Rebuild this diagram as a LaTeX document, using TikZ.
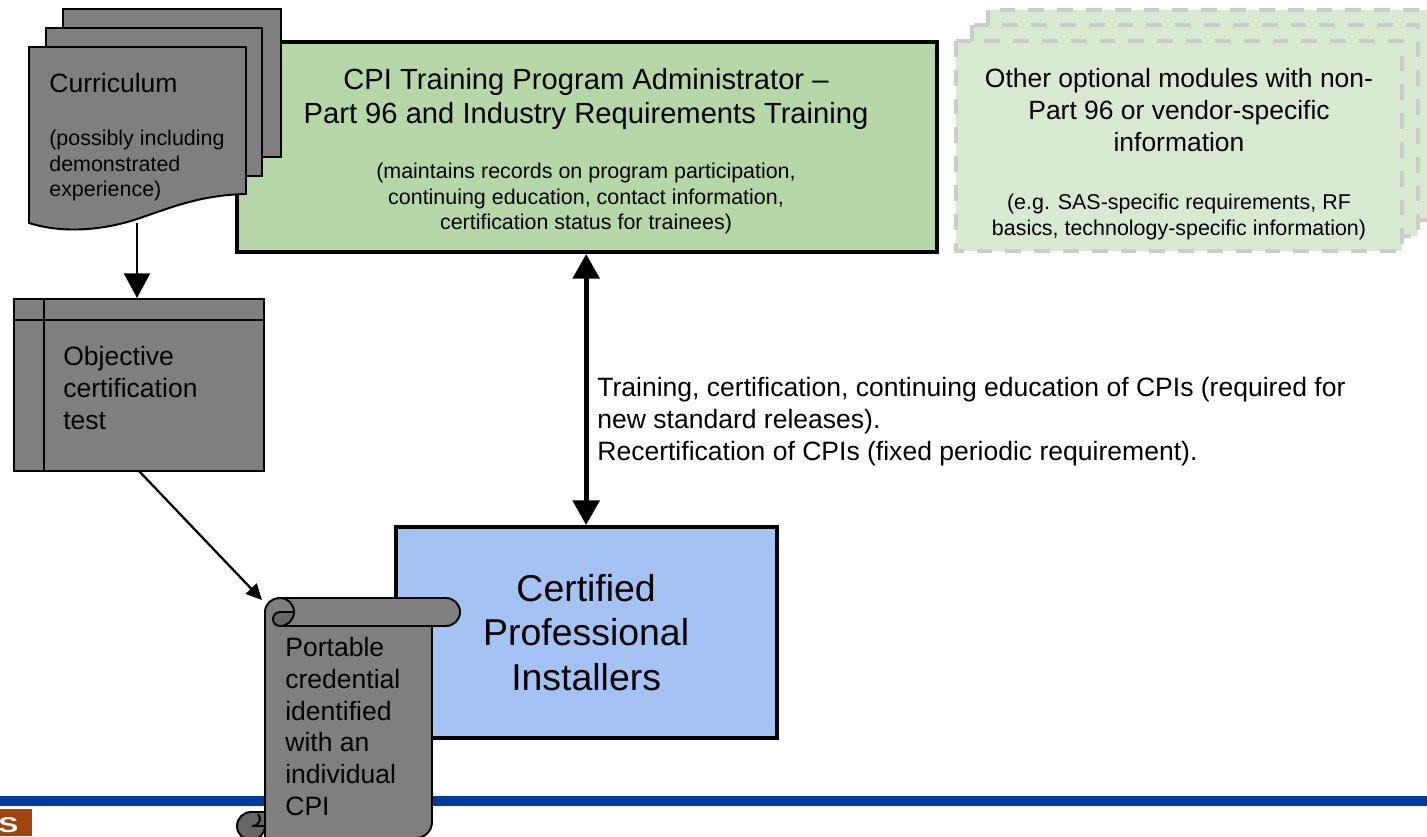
\documentclass[tikz,border=0pt]{standalone}
\usepackage{fontspec}
\setmainfont{Liberation Sans}
\usetikzlibrary{arrows.meta}
\definecolor{docgrey}{HTML}{7F7F7F}
\definecolor{rollgrey}{HTML}{666666}
\definecolor{admingreen}{HTML}{B6D7A8}
\definecolor{optgreen}{HTML}{D9EAD3}
\definecolor{optdash}{HTML}{CCCCCC}
\definecolor{installblue}{HTML}{A4C2F4}
\definecolor{barblue}{HTML}{003C9B}
\definecolor{logobrown}{HTML}{A0430C}
\newcommand{\fnote}{\fontsize{12.2}{14.4}\selectfont}
\newcommand{\fmid}{\fontsize{15.1}{18.1}\selectfont}
\newcommand{\ftitle}{\fontsize{16.6}{19.3}\selectfont}
\newcommand{\fopt}{\fontsize{15.05}{18}\selectfont}
\newcommand{\fhuge}{\fontsize{21.3}{25.2}\selectfont}
\tikzset{
    grey shape/.style={draw=black,line width=1.1pt,fill=docgrey},
    opt sheet/.style={draw=optdash,fill=optgreen,line width=2.2pt,dash pattern=on 9pt off 7.4pt},
    main box/.style={draw=black,line width=2.3pt,rectangle,inner sep=0pt},
    label/.style={inner sep=0pt,align=left,anchor=north west},
    thin link/.style={line width=1.4pt,-{Triangle[length=14pt,width=14.7pt]}},
    small link/.style={line width=1.3pt,-{Triangle[length=9pt,width=8.5pt]}},
    thick link/.style={line width=2.7pt,{Triangle[length=14pt,width=15pt]}-{Triangle[length=14pt,width=15pt]}}
}
\begin{document}
\begin{tikzpicture}[x=0.02cm,y=-0.02cm]
    \path [use as bounding box,clip] (0,0) rectangle (1427,836);

    \fill [barblue] (0,796) rectangle (1427,806);
    \fill [logobrown] (0,809) rectangle (32,836);
    \node [text=white,inner sep=0pt,xscale=1.4,font=\fnote\bfseries] (logo) at (8.5,825) {S};

    \node [main box,fill=admingreen,anchor=north west,minimum width=398.6pt,minimum height=119.5pt] (admin) at (235,40) {};
    \node [align=center,inner sep=0pt,font=\ftitle] (admintitle) at (586,99) {CPI Training Program Administrator --\\Part 96 and Industry Requirements Training};
    \node [align=center,inner sep=0pt,font=\fnote] (admintext) at (586,198.5) {(maintains records on program participation,\\continuing education, contact information,\\certification status for trainees)};

    \draw [grey shape] (63,9) rectangle (281,157);
    \draw [grey shape] (46,28) rectangle (262,176);
    \draw [grey shape] (29,47) -- (246,47) -- (246,194)
        .. controls (200,195) and (170,208) .. (140,218)
        .. controls (115,227) and (70,236) .. (29,223) -- cycle;
    \node [label,font=\fmid] (curriculum) at (49,73) {Curriculum};
    \node [label,font=\fnote] (curriculumtext) at (49,130) {(possibly including\\demonstrated\\experience)};
    \coordinate (curriculumfoot) at (137,223);

    \draw [opt sheet] (988,10) rectangle (1440,220);
    \draw [opt sheet] (972,25) rectangle (1418,236);
    \draw [opt sheet] (956,41) rectangle (1402,251);
    \node [align=center,inner sep=0pt,font=\fopt] (opttitle) at (1179,110) {Other optional modules with non-\\Part 96 or vendor-specific\\information};
    \node [align=center,inner sep=0pt,font=\fnote] (opttext) at (1179,217) {(e.g. SAS-specific requirements, RF\\basics, technology-specific information)};

    \node [grey shape,rectangle,inner sep=0pt,anchor=north west,minimum width=142.3pt,minimum height=98.1pt] (objective) at (13,298) {};
    \draw [line width=1.1pt] (13,320) -- (264,320) (44,298) -- (44,471);
    \node [label,font=\fmid,text width=120pt] (objectivetext) at (63,346) {Objective\\certification\\test};

    \node [main box,fill=installblue,anchor=north west,minimum width=217pt,minimum height=120pt,
        align=center,font=\fhuge] (installers) at (393.5,525) {Certified\\Professional\\Installers};

    \draw [thick link] (admin.south -| installers.north) coordinate (linktop) -- (linktop |- installers.north);
    \node [label,font=\fmid] (linktext) at (597,377) {Training, certification, continuing education of CPIs (required for\\new standard releases).\\Recertification of CPIs (fixed periodic requirement).};

    \draw [thin link] (curriculumfoot) -- (objective.north -| curriculumfoot);
    \coordinate (objectivefoot) at (139,471);
    \coordinate (scrollhead) at (262,600);
    \draw [small link] (objectivefoot) -- (scrollhead);

    \draw [grey shape,fill=rollgrey] (237,826) arc (180:0:14) -- (265,812) -- (251,812) arc (270:180:14) -- cycle;
    \draw [grey shape] (280,598) -- (446,598) arc (-90:90:14) -- (432,626) -- (432,822) arc (0:90:16) -- (265,838)
        -- (265,612) arc (180:270:15 and 14) -- cycle;
    \draw [line width=1.1pt] (258,814) .. controls (262,818) and (260,826) .. (252,826) -- (265,826);
    \draw [grey shape,fill=rollgrey] (280,626) arc (90:0:14) -- (280,612) arc (-90:-270:7);
    \draw [line width=1.1pt] (280,598) arc (-90:0:14);
    \draw [line width=1.1pt] (280,626) -- (432,626);
    \node [label,font=\fmid] (scrolltext) at (285,637) {Portable\\credential\\identified\\with an\\individual\\CPI};
\end{tikzpicture}
\end{document}
